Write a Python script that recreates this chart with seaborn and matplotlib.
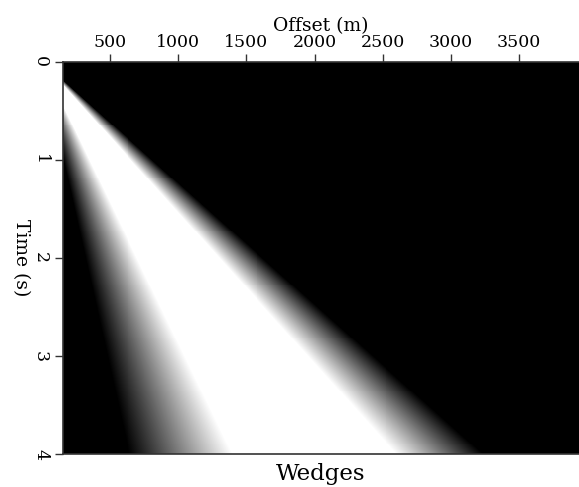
import numpy as np
import matplotlib
matplotlib.use("Agg")
import matplotlib.pyplot as plt
import seaborn as sns

# Sampling of the section
offset_range = [155.0, 3940.0]     # m, left and right edge of the panel
time_range = [0.0, 4.0]            # s, top and bottom edge
n_offset = 520
n_time = 400

# Amplitude as a function of apparent velocity (offset / time)
velocity_knots = [0.0, 160.0, 350.0, 650.0, 810.0, 1.0e9]
amplitude_knots = [0.0, 0.0, 1.0, 1.0, 0.0, 0.0]

offset_ticks = [500, 1000, 1500, 2000, 2500, 3000, 3500]
time_ticks = [0, 1, 2, 3, 4]

# Build the section on cell centres
d_off = (offset_range[1] - offset_range[0]) / n_offset
d_t = (time_range[1] - time_range[0]) / n_time
off_c = offset_range[0] + d_off * (np.arange(n_offset) + 0.5)
t_c = time_range[0] + d_t * (np.arange(n_time) + 0.5)
OFF, T = np.meshgrid(off_c, t_c)
app_vel = OFF / T
section = np.interp(app_vel, velocity_knots, amplitude_knots)

sns.set_style("ticks")
plt.rcParams["font.family"] = ["DejaVu Serif"]
plt.rcParams["text.color"] = "black"
plt.rcParams["axes.labelcolor"] = "black"

fig = plt.figure(figsize=(5.79, 4.87), dpi=100)
ax = fig.add_axes([63 / 579, 1 - 454.3 / 487, 1 - 63 / 579, (454.3 - 61.7) / 487])

sns.heatmap(section, ax=ax, cmap="gray", vmin=0, vmax=1, cbar=False,
            xticklabels=False, yticklabels=False, rasterized=True)

edge_col = "0.2"
ax.xaxis.tick_top()
ax.xaxis.set_label_position("top")
ax.set_xticks([(v - offset_range[0]) / d_off for v in offset_ticks])
ax.set_xticklabels([str(v) for v in offset_ticks], fontsize=12.5)
ax.set_yticks([(v - time_range[0]) / d_t for v in time_ticks])
ax.set_yticklabels([str(v) for v in time_ticks], fontsize=12.5,
                   rotation=-90, va="center")
ax.tick_params(axis="both", direction="out", length=6, width=1,
               color=edge_col, labelcolor="black", pad=4)
ax.tick_params(axis="x", pad=2)

ax.set_xlabel("Offset (m)", fontsize=13.5, labelpad=2)
ax.set_ylabel("Time (s)", fontsize=13.5, rotation=-90, labelpad=8,
              va="center")

for side in ["top", "left", "bottom"]:
    ax.spines[side].set_visible(True)
    ax.spines[side].set_color(edge_col)
    ax.spines[side].set_linewidth(1.2)
ax.spines["right"].set_visible(False)

fig.text(321 / 579, 1 - 474 / 487, "Wedges", fontsize=16.5, ha="center",
         va="center")

fig.savefig("out.png", dpi=100)
